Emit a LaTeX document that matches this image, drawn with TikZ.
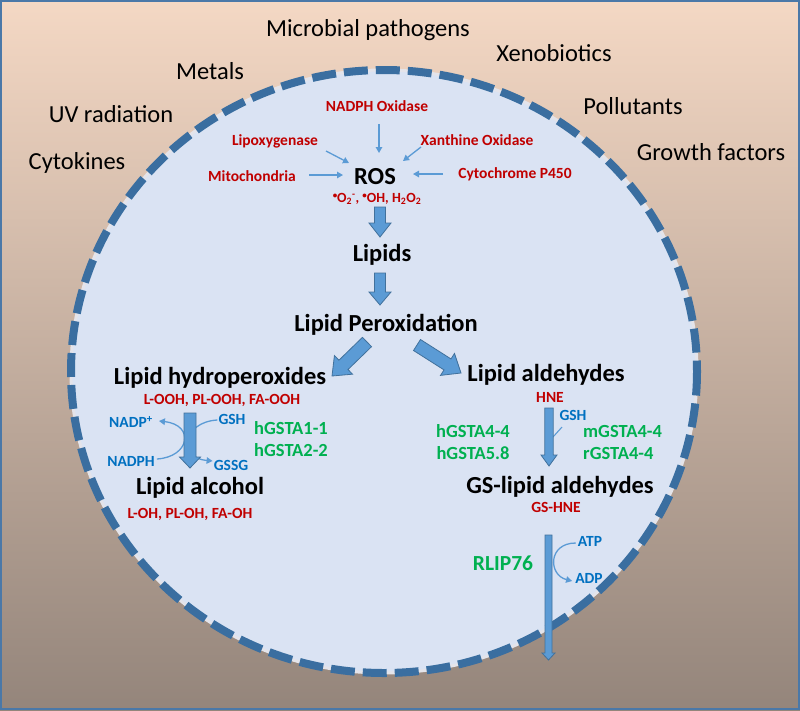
\documentclass[tikz,border=0pt]{standalone}
\usepackage{fontspec}
\setmainfont{Carlito}
\usetikzlibrary{calc,arrows.meta}
\definecolor{bgtop}{RGB}{244,216,196}
\definecolor{bgbot}{RGB}{148,133,123}
\definecolor{framec}{RGB}{74,120,168}
\definecolor{cellfill}{RGB}{218,227,243}
\definecolor{memb}{RGB}{58,110,160}
\definecolor{gapc}{RGB}{228,228,234}
\definecolor{redc}{RGB}{192,0,0}
\definecolor{greenc}{RGB}{0,176,80}
\definecolor{bluec}{RGB}{0,112,192}
\definecolor{arrc}{RGB}{91,155,213}
\definecolor{arrb}{RGB}{65,113,156}
\newcommand\blkarrow[5]{%
 \draw[blockarr] ($(#1)!#3pt!90:(#2)$) -- ($(#2)!#5pt!(#1)!#3pt!90:(#2)$) -- ($(#2)!#5pt!(#1)!#4pt!90:(#2)$) -- (#2) -- ($(#2)!#5pt!(#1)!#4pt!-90:(#2)$) -- ($(#2)!#5pt!(#1)!#3pt!-90:(#2)$) -- ($(#1)!#3pt!-90:(#2)$) -- cycle;}
\newcommand\raddot{\raisebox{0.55ex}{\fontsize{9}{9}\selectfont•}}
\begin{document}
\begin{tikzpicture}[x=1pt,y=-1pt,
  outerlbl/.style={inner sep=0pt, font=\fontsize{24.5}{28}\selectfont},
  biglbl/.style={inner sep=0pt, font=\bfseries\fontsize{24.5}{28}\selectfont},
  redlbl/.style={inner sep=0pt, text=redc, font=\bfseries\fontsize{15.5}{18}\selectfont},
  bluelbl/.style={inner sep=0pt, text=bluec, font=\bfseries\fontsize{15.5}{18}\selectfont},
  greenlbl/.style={inner sep=0pt, text=greenc, font=\bfseries\fontsize{18.5}{22}\selectfont},
  tarr/.style={draw=arrc, line width=1.3pt, -{Triangle[length=6pt,width=6.5pt]}},
  tline/.style={draw=arrc, line width=1.1pt},
  blockarr/.style={fill=arrc, draw=arrb, line width=0.8pt, line join=miter}
]
\useasboundingbox (0,0) rectangle (800,710);
\shade[top color=bgtop, bottom color=bgbot] (0,0) rectangle (800,710);
\draw[framec, line width=2pt] (1,1) rectangle (799,709);
% cell
\fill[cellfill] (384,371.5) ellipse [x radius=313, y radius=301.5];
\draw[gapc, line width=3pt] (384,371.5) ellipse [x radius=313, y radius=301.5];
\draw[memb, line width=8pt, dash pattern=on 24pt off 8pt] (384,371.5) ellipse [x radius=313, y radius=301.5];
% outside stimuli
\node[outerlbl] (microb) at (368,30) {Microbial pathogens};
\node[outerlbl] (xeno) at (554,53) {Xenobiotics};
\node[outerlbl] (metals) at (210,71) {Metals};
\node[outerlbl] (poll) at (633,106) {Pollutants};
\node[outerlbl] (uv) at (111,114) {UV radiation};
\node[outerlbl] (growth) at (711,152) {Growth factors};
\node[outerlbl] (cyto) at (77,163) {Cytokines};
% ROS sources
\node[redlbl] (nadph) at (377,106) {NADPH Oxidase};
\node[redlbl] (lipox) at (275,141) {Lipoxygenase};
\node[redlbl] (xanth) at (477,140) {Xanthine Oxidase};
\node[redlbl] (mito) at (252,176) {Mitochondria};
\node[redlbl] (cytp) at (515,174) {Cytochrome P450};
\node[biglbl, text depth=0pt] (ros) at (375,176) {ROS};
\node[redlbl, font=\bfseries\fontsize{14}{16}\selectfont] (rossub) at (377,199) {\raddot O\textsubscript{2}\textsuperscript{-}, \raddot OH, H\textsubscript{2}O\textsubscript{2}};
\draw[tarr] ([shift={(2,18)}]nadph.center) -- ([shift={(4,-23)}]ros.center);
\draw[tarr] ([shift={(51,10)}]lipox.center) -- ([shift={(-26,-13)}]ros.center);
\draw[tarr] ([shift={(-56,7)}]xanth.center) -- ([shift={(28,-15)}]ros.center);
\draw[tarr] ([shift={(57,-1)}]mito.center) -- ([shift={(-32,-1)}]ros.center);
\draw[tarr] ([shift={(-72,0)}]cytp.center) -- ([shift={(38,-2)}]ros.center);
% main pathway
\node[biglbl] (lipids) at (382,255) {Lipids};
\node[biglbl] (lipperox) at (386,325) {Lipid Peroxidation};
\node[biglbl] (hydro) at (220,378) {Lipid hydroperoxides};
\node[redlbl] (hydrosub) at (222,400) {L-OOH, PL-OOH, FA-OOH};
\node[bluelbl] (nadpp) at (131,422) {NADP\textsuperscript{+}};
\node[bluelbl] (gsha) at (232,419) {GSH};
\node[bluelbl] (nadph2) at (131,461) {NADPH};
\node[bluelbl] (gssg) at (231,465) {GSSG};
\node[greenlbl] (gsta11) at (291,428) {hGSTA1-1};
\node[greenlbl] (gsta22) at (291,450) {hGSTA2-2};
\node[biglbl] (alcohol) at (200,488) {Lipid alcohol};
\node[redlbl] (alcsub) at (190,514) {L-OH, PL-OH, FA-OH};
\node[biglbl] (aldeh) at (546,375) {Lipid aldehydes};
\node[redlbl] (hne) at (550,397) {HNE};
\node[bluelbl] (gshb) at (573,415) {GSH};
\node[greenlbl] (gsta44) at (473,431) {hGSTA4-4};
\node[greenlbl] (gsta58) at (473,453) {hGSTA5.8};
\node[greenlbl, anchor=west] (mgsta) at (583,431) {mGSTA4-4};
\node[greenlbl, anchor=west] (rgsta) at (583,453) {rGSTA4-4};
\node[biglbl] (gsald) at (560,487) {GS-lipid aldehydes};
\node[redlbl] (gshne) at (556,507) {GS-HNE};
\node[greenlbl, font=\bfseries\fontsize{21.5}{25}\selectfont] (rlip) at (503,563) {RLIP76};
\node[bluelbl] (atp) at (590,541) {ATP};
\node[bluelbl] (adp) at (589,578) {ADP};
% cofactor curves
\draw[tarr] ([shift={(2,-2)}]nadph2.east) .. controls +(33,-2) and +(36,4) .. ([shift={(6,-1)}]nadpp.east);
\draw[tarr] ([shift={(-1,1)}]gsha.west) .. controls +(-35,2) and +(-35,-3) .. ([shift={(-1,-4)}]gssg.west);
\draw[tline] ([shift={(-11,12)}]gshb.center) -- ([shift={(-20,22)}]gshb.center);
\draw[tarr] ([shift={(-2,2)}]atp.west) .. controls +(-28,0) and +(-24,-6) .. ([shift={(-3,3)}]adp.west);
% block arrows
\coordinate (a1s) at ([shift={(3,8)}]rossub.center);
\coordinate (a1e) at ([shift={(-2,-18)}]lipids.center);
\coordinate (a2s) at ([shift={(-2,18)}]lipids.center);
\coordinate (a2e) at ([shift={(-6,-20)}]lipperox.center);
\coordinate (a3s) at ([shift={(-19,17)}]lipperox.center);
\coordinate (a3e) at ([shift={(112,-2)}]hydro.center);
\coordinate (a4s) at ([shift={(31,20)}]lipperox.center);
\coordinate (a4e) at ([shift={(-85,-2)}]aldeh.center);
\coordinate (a5s) at ([shift={(-32,13)}]hydrosub.center);
\coordinate (a5e) at ([shift={(-10,-20)}]alcohol.center);
\coordinate (a6s) at ([shift={(-1,11)}]hne.center);
\coordinate (a6e) at ([shift={(-11,-21)}]gsald.center);
\coordinate (a7s) at ([shift={(-7.5,28)}]gshne.center);
\coordinate (a7e) at (548.5,660);
\blkarrow{a1s}{a1e}{5.5}{11}{14}
\blkarrow{a2s}{a2e}{5.5}{11}{13}
\blkarrow{a3s}{a3e}{6.5}{13}{16}
\blkarrow{a4s}{a4e}{6.5}{13}{16}
\blkarrow{a5s}{a5e}{6}{10.5}{11}
\blkarrow{a6s}{a6e}{4.2}{8}{11}
\blkarrow{a7s}{a7e}{3.5}{6.5}{7}
\end{tikzpicture}
\end{document}
